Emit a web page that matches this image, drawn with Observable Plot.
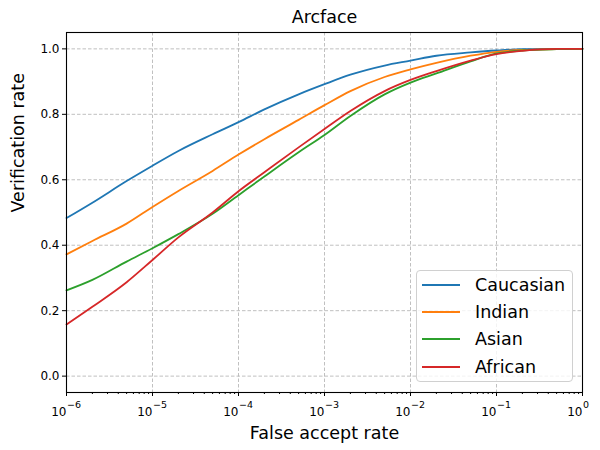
<!DOCTYPE html>
<html><head><meta charset="utf-8">
<script src="https://cdn.jsdelivr.net/npm/d3@7"></script>
<script src="https://cdn.jsdelivr.net/npm/@observablehq/plot@0.6"></script>
<style>
body{margin:0;background:#fff;font-family:"DejaVu Sans",sans-serif;}
#wrap{position:relative;width:600px;height:450px;}
#legend{position:absolute;left:416px;top:270px;width:157px;height:112px;border:1px solid #d0d0d0;border-radius:4px;background:rgba(255,255,255,0.8);box-sizing:border-box;padding-top:0px;}
.row{display:flex;align-items:center;height:27.3px;font-size:17.5px;color:#000;}
.sw{width:38px;height:2px;margin-left:5px;margin-right:15px;}
</style>
</head><body>
<div id="wrap"></div>
<script>
const far = [1e-6,2e-6,5e-6,1e-5,2e-5,5e-5,1e-4,2e-4,5e-4,1e-3,2e-3,5e-3,1e-2,2e-2,5e-2,1e-1,2e-1,5e-1,1];
const series = ["Caucasian","Indian","Asian","African"];
const colors = ["#1f77b4","#ff7f0e","#2ca02c","#d62728"];
const caucasian = [0.483,0.530,0.596,0.643,0.688,0.739,0.776,0.815,0.861,0.892,0.921,0.949,0.964,0.979,0.989,0.995,0.999,1.0,1.0];
const indian    = [0.372,0.413,0.466,0.517,0.566,0.627,0.677,0.724,0.783,0.828,0.871,0.914,0.937,0.957,0.979,0.991,0.997,0.999,1.0];
const asian     = [0.262,0.294,0.350,0.391,0.434,0.496,0.553,0.610,0.684,0.737,0.795,0.861,0.897,0.925,0.962,0.986,0.995,0.999,1.0];
const african   = [0.158,0.212,0.287,0.355,0.424,0.500,0.565,0.623,0.699,0.755,0.810,0.871,0.905,0.932,0.964,0.984,0.994,1.0,1.0];
const values = [caucasian, indian, asian, african];
const xTicks = [1e-6,1e-5,1e-4,1e-3,1e-2,1e-1,1];
const xTickBase = "10";
const xTickExponents = ["−6","−5","−4","−3","−2","−1","0"];
const yTicks = [0,0.2,0.4,0.6,0.8,1.0];
const yTickLabels = ["0.0","0.2","0.4","0.6","0.8","1.0"];

const data = [];
series.forEach((s,i)=>far.forEach((f,j)=>data.push({series:s, far:f, tpr:values[i][j]})));
const minor = [];
for (let e=-6;e<0;e++) for (let k=2;k<10;k++) minor.push(k*Math.pow(10,e));
const tickLabelData = xTicks.map((t,i)=>({t, exp:xTickExponents[i]}));

const chart = Plot.plot({
  width:600, height:450,
  marginLeft:66, marginRight:18, marginTop:32, marginBottom:58,
  style:{fontFamily:"DejaVu Sans", background:"#fff"},
  x:{type:"log", domain:[1e-6,1]},
  y:{domain:[-0.05,1.05]},
  color:{domain:series, range:colors},
  marks:[
    Plot.gridX(xTicks.slice(1,-1),{stroke:"#b0b0b0", strokeOpacity:1, strokeDasharray:"3.5,2", strokeWidth:0.8}),
    Plot.gridY(yTicks,{stroke:"#b0b0b0", strokeOpacity:1, strokeDasharray:"3.5,2", strokeWidth:0.8}),
    Plot.line(data,{x:"far", y:"tpr", stroke:"series", strokeWidth:1.8, curve:"monotone-x"}),
    Plot.frame({stroke:"black", strokeWidth:1.1}),
    Plot.axisX({ticks:xTicks, tickFormat:()=>null, tickSize:4, label:null}),
    Plot.axisX({ticks:minor, tickFormat:()=>null, tickSize:2, label:null}),
    Plot.text(tickLabelData,{x:"t", text:()=>xTickBase, frameAnchor:"bottom", lineAnchor:"middle", textAnchor:"end", dy:20, fontSize:12, fill:"#000"}),
    Plot.text(tickLabelData,{x:"t", text:"exp", frameAnchor:"bottom", lineAnchor:"middle", textAnchor:"start", dy:12.5, dx:0.5, fontSize:9.5, fill:"#000"}),
    Plot.axisY({ticks:yTicks, tickFormat:(d)=>yTickLabels[yTicks.indexOf(d)], tickSize:4, tickPadding:3, fontSize:12, label:null, color:"#000"}),
    Plot.text(["Arcface"],{frameAnchor:"top", lineAnchor:"middle", dy:-15.5, fontSize:17.5, fill:"#000"}),
    Plot.text(["False accept rate"],{frameAnchor:"bottom", lineAnchor:"middle", dy:41, fontSize:17.5, fill:"#000"}),
    Plot.text(["Verification rate"],{frameAnchor:"left", dx:-48, rotate:-90, fontSize:17.5, fill:"#000"})
  ]
});
const wrap = document.getElementById("wrap");
wrap.appendChild(chart);
const lg = document.createElement("div");
lg.id="legend";
series.forEach((s,i)=>{
  const r=document.createElement("div"); r.className="row";
  const sw=document.createElement("div"); sw.className="sw"; sw.style.background=colors[i];
  const t=document.createElement("span"); t.textContent=s;
  r.appendChild(sw); r.appendChild(t); lg.appendChild(r);
});
wrap.appendChild(lg);
</script>
</body></html>
